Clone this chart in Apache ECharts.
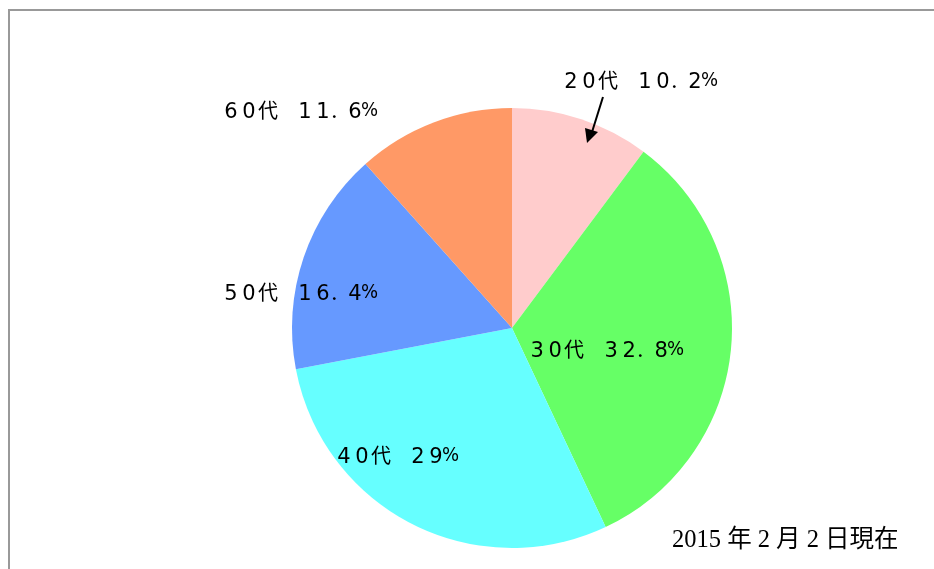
<!DOCTYPE html>
<html><head><meta charset="utf-8">
<script src="https://cdn.jsdelivr.net/npm/echarts@6/dist/echarts.min.js"></script>
<style>html,body{margin:0;padding:0;background:#fff}#c{width:934px;height:569px}</style>
</head><body><div id="c"></div>
<script>
var categories = ['20代', '30代', '40代', '50代', '60代'];
var values = [10.2, 32.8, 29, 16.4, 11.6];
var colors = ['#FFCCCC', '#66FF66', '#66FFFF', '#6699FF', '#FF9966'];
var footnote = '2015 年 2 月 2 日現在';

var labelPos = [[562, 82], [533, 351], [335, 457], [222, 294], [222, 112]];

function tok(s) {
  var out = '';
  String(s).split('').forEach(function (c) {
    if (/[0-9]/.test(c)) out += '{d|' + c + '}';
    else if (c === '.') out += '{p|．}';
    else if (c === '%') out += '{q|%}';
    else if (c === ' ') out += '{s|　}';
    else out += '{k|' + c + '}';
  });
  return out;
}

var base = { color: '#000', align: 'center', verticalAlign: 'middle', height: 22, lineHeight: 22 };
function rs(o) { var r = {}; for (var k in base) r[k] = base[k]; for (var k2 in o) r[k2] = o[k2]; return r; }

var chart = echarts.init(document.getElementById('c'));
chart.setOption({
  backgroundColor: '#fff',
  animation: false,
  graphic: [
    { type: 'rect', shape: { x: 9, y: 10, width: 940, height: 580 }, style: { fill: 'none', stroke: '#999', lineWidth: 2 }, z: 0 },
    { type: 'line', shape: { x1: 603, y1: 97, x2: 592, y2: 132 }, style: { stroke: '#000', lineWidth: 2 }, z: 10 },
    { type: 'polygon', shape: { points: [[587, 143], [585, 128], [598, 132]] }, style: { fill: '#000' }, z: 10 },
    { type: 'text', x: 672, y: 541, style: { text: footnote, font: '24.5px "Liberation Serif", "Noto Sans CJK JP"', fill: '#000', verticalAlign: 'middle', align: 'left' }, z: 10 }
  ],
  series: [{
    type: 'pie',
    center: [512, 328],
    radius: 220,
    startAngle: 90,
    clockwise: true,
    silent: true,
    data: categories.map(function (c, i) { return { name: c, value: values[i], itemStyle: { color: colors[i] } }; }),
    label: {
      show: true,
      formatter: function (p) { return tok(p.name + ' ' + p.value + '%'); },
      overflow: 'none',
      rich: {
        d: rs({ fontFamily: '"DejaVu Sans"', fontSize: 21, width: 18, padding: [2, 0, 0, 0] }),
        k: rs({ fontFamily: '"Noto Sans CJK JP"', fontSize: 20, width: 20, padding: [0, 0, 4, 0] }),
        s: rs({ fontFamily: '"Noto Sans CJK JP"', fontSize: 17, width: 18 }),
        p: rs({ fontFamily: '"Noto Sans CJK JP"', fontSize: 18, width: 14, align: 'left', padding: [0, 0, 2, 0] }),
        q: rs({ fontFamily: '"Liberation Sans Narrow", "DejaVu Sans Condensed"', fontSize: 20, width: 11, padding: [0, 0, 3, 0] })
      }
    },
    labelLine: { show: false },
    labelLayout: function (p) {
      var pos = labelPos[p.dataIndex];
      return { x: pos[0], y: pos[1], align: 'left', verticalAlign: 'middle' };
    }
  }]
});
</script></body></html>
